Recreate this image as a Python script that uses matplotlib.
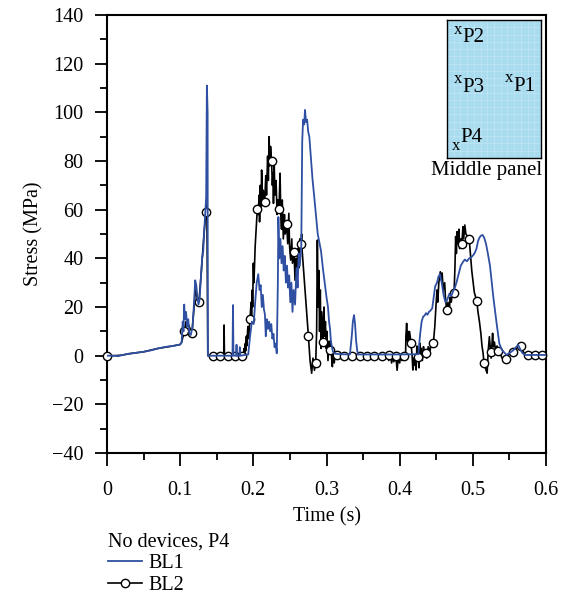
import matplotlib
matplotlib.use("Agg")
import matplotlib.pyplot as plt
from matplotlib.lines import Line2D
import numpy as np

plt.rcParams["font.family"] = ["Liberation Serif", "DejaVu Serif"]
plt.rcParams["font.size"] = 14.5

# BL1 (blue line), time in s, stress in MPa
bl1_t = [0.000, 0.010, 0.015, 0.020, 0.030, 0.040, 0.050, 0.060, 0.070, 0.080, 0.090, 0.100,
         0.102, 0.1035, 0.1045, 0.1055, 0.1065, 0.108, 0.1095, 0.111, 0.1125, 0.1145, 0.117,
         0.119, 0.1205, 0.122, 0.1235, 0.125, 0.1265, 0.128, 0.130, 0.1315, 0.133, 0.1345,
         0.1355, 0.1365, 0.1375, 0.1378, 0.1715, 0.1722, 0.1728, 0.1765, 0.177, 0.1775, 0.181,
         0.1815, 0.182, 0.193, 0.1955, 0.198, 0.2005, 0.2025, 0.2046, 0.2067, 0.2085, 0.210,
         0.2115, 0.213, 0.2145, 0.2158, 0.217, 0.2185, 0.220, 0.2215, 0.223, 0.2245, 0.226,
         0.2275, 0.229, 0.2305, 0.232, 0.2335, 0.2342, 0.2355, 0.237, 0.2385, 0.240, 0.2415,
         0.243, 0.2445, 0.246, 0.2475, 0.249, 0.2505, 0.252, 0.2535, 0.255, 0.257, 0.259,
         0.2605, 0.262, 0.2635, 0.2655, 0.2668, 0.268, 0.2695, 0.2706, 0.272, 0.2735, 0.275,
         0.2765, 0.279, 0.281, 0.283, 0.2855, 0.288, 0.2905, 0.2925, 0.295, 0.2975, 0.300,
         0.302, 0.3035, 0.3048, 0.306, 0.3075, 0.309, 0.312, 0.320, 0.332, 0.3345, 0.336,
         0.3376, 0.339, 0.3405, 0.342, 0.3435, 0.360, 0.400, 0.4255, 0.428, 0.430, 0.432,
         0.434, 0.436, 0.438, 0.440, 0.442, 0.4445, 0.4465, 0.4485, 0.451, 0.453, 0.455,
         0.4575, 0.460, 0.4625, 0.465, 0.468, 0.4705, 0.473, 0.4755, 0.478, 0.481, 0.4835,
         0.4865, 0.489, 0.492, 0.495, 0.498, 0.501, 0.503, 0.505, 0.507, 0.509, 0.511, 0.5134,
         0.5155, 0.518, 0.5205, 0.5234, 0.528, 0.5326, 0.5362, 0.5394, 0.546, 0.552, 0.5555,
         0.559, 0.562, 0.565, 0.568, 0.572, 0.600]
bl1_v = [0.0, 0.0, -0.2, 0.2, 0.8, 1.2, 1.6, 2.2, 3.0, 3.6, 4.0, 4.6,
         5.5, 14.0, 10.0, 21.0, 15.0, 18.0, 12.0, 15.0, 9.0, 8.5, 12.0,
         22.0, 31.0, 29.0, 24.0, 21.0, 23.0, 30.0, 40.0, 43.0, 52.0, 60.0,
         65.0, 111.0, 100.0, 0.0, 0.0, 20.8, 0.0, 0.0, 4.5, 0.0, 0.0,
         3.5, 0.0, 0.5, 8.0, 14.0, 13.0, 22.0, 30.0, 33.5, 27.0, 29.0,
         20.0, 25.0, 19.0, 17.0, 8.0, 15.0, 11.0, 14.0, 10.0, 13.0, 7.0,
         9.0, 3.5, 5.0, 1.0, 30.0, 57.0, 40.0, 48.0, 38.0, 45.0, 35.0,
         41.0, 30.0, 37.0, 28.0, 33.0, 22.0, 30.0, 18.0, 27.0, 21.0, 36.0,
         28.0, 42.0, 37.0, 45.0, 88.0, 97.0, 95.0, 101.0, 96.0, 97.0, 92.0,
         90.0, 80.0, 72.0, 66.0, 58.0, 50.0, 46.0, 43.0, 36.0, 30.0, 24.0,
         20.0, 14.0, 11.0, 6.0, 3.5, 1.5, 0.8, 0.6, 0.5, 8.0, 14.0,
         16.7, 13.0, 6.0, 2.0, 0.5, 0.5, 0.5, 0.6, 9.0, 14.0, 16.0,
         16.5, 17.5, 16.8, 18.0, 18.5, 19.5, 24.0, 28.5, 30.0, 32.5, 33.5,
         30.0, 25.0, 22.0, 23.0, 25.5, 24.5, 26.5, 28.0, 30.5, 34.0, 37.0,
         38.5, 39.5, 38.8, 40.0, 40.5, 41.5, 42.5, 44.0, 47.0, 48.5, 49.3, 49.6,
         48.5, 46.0, 42.0, 37.0, 24.0, 13.0, 5.0, 2.5, 0.3, 1.5, 2.3,
         3.5, 4.4, 2.5, 1.0, 0.3, 0.3]

# BL2 (black line)
bl2_t = [0.000, 0.010, 0.020, 0.030, 0.050, 0.070, 0.090, 0.100, 0.102, 0.1057, 0.108, 0.111,
         0.116, 0.119, 0.121, 0.1235, 0.1257, 0.129, 0.1325, 0.1353, 0.1365, 0.1378, 0.1595,
         0.160, 0.1605, 0.186, 0.1875, 0.188, 0.189, 0.1895, 0.1905, 0.191, 0.1925, 0.1935,
         0.1954, 0.197, 0.1975, 0.1985, 0.199, 0.200, 0.2008, 0.2025, 0.2054, 0.2065, 0.208,
         0.2085, 0.2095, 0.2105, 0.2113, 0.2125, 0.2135, 0.2155, 0.217, 0.218, 0.2195, 0.2205,
         0.2215, 0.2225, 0.2235, 0.2249, 0.226, 0.2268, 0.2275, 0.2285, 0.2295, 0.231, 0.2325,
         0.2335, 0.2351, 0.2365, 0.2375, 0.2385, 0.2395, 0.241, 0.2425, 0.2435, 0.2455, 0.247,
         0.2485, 0.2495, 0.251, 0.2525, 0.2535, 0.2556, 0.257, 0.2585, 0.2595, 0.261, 0.262,
         0.2635, 0.2651, 0.266, 0.2665, 0.2752, 0.2775, 0.2797, 0.2815, 0.2835, 0.2852, 0.2865,
         0.2875, 0.2885, 0.2895, 0.2905, 0.2915, 0.2925, 0.2935, 0.2952, 0.2965, 0.2975, 0.2985,
         0.2995, 0.3005, 0.302, 0.3035, 0.3048, 0.306, 0.307, 0.308, 0.309, 0.3105, 0.3125,
         0.3139, 0.380, 0.3835, 0.385, 0.387, 0.389, 0.3905, 0.392, 0.3935, 0.395, 0.3965,
         0.398, 0.400, 0.4015, 0.403, 0.4064, 0.408, 0.4085, 0.4095, 0.4105, 0.4115, 0.4125,
         0.4135, 0.4155, 0.417, 0.418, 0.419, 0.420, 0.421, 0.4225, 0.4235, 0.4245, 0.4255,
         0.4265, 0.4275, 0.4285, 0.4295, 0.431, 0.4325, 0.434, 0.4355, 0.437, 0.439, 0.4415,
         0.443, 0.446, 0.448, 0.4495, 0.451, 0.452, 0.4535, 0.4555, 0.457, 0.458, 0.4595,
         0.4615, 0.4625, 0.4642, 0.466, 0.4675, 0.469, 0.4705, 0.4725, 0.4743, 0.4755, 0.4765,
         0.4775, 0.4785, 0.4795, 0.481, 0.482, 0.4835, 0.4849, 0.4865, 0.4875, 0.489, 0.4905,
         0.495, 0.4985, 0.502, 0.5053, 0.507, 0.509, 0.511, 0.5125, 0.514, 0.5152, 0.517,
         0.5195, 0.521, 0.5226, 0.5244, 0.525, 0.527, 0.528, 0.5295, 0.531, 0.533, 0.5348,
         0.537, 0.540, 0.5453, 0.548, 0.550, 0.5553, 0.558, 0.5605, 0.5654, 0.568, 0.572, 0.600]
bl2_v = [0.0, 0.0, 0.2, 0.8, 1.6, 3.0, 4.0, 4.6, 5.5, 10.2, 14.0, 13.0,
         9.2, 20.0, 28.0, 23.0, 22.2, 35.0, 50.0, 59.2, 62.0, 0.0, 0.0,
         12.6, 0.0, 0.0, 3.0, 1.0, 5.0, 2.0, 8.0, 4.0, 12.0, 7.0,
         15.1, 22.0, 16.0, 27.0, 20.0, 38.0, 30.0, 45.0, 60.2, 58.0, 66.0,
         55.0, 70.0, 60.0, 76.3, 64.0, 68.0, 63.2, 74.0, 66.0, 82.0, 72.0,
         90.0, 78.0, 86.0, 80.1, 70.0, 75.0, 62.6, 79.0, 66.0, 72.0, 58.0,
         64.0, 60.2, 75.0, 58.0, 52.0, 64.0, 48.0, 58.0, 50.0, 54.0, 46.0,
         58.5, 45.0, 39.3, 48.0, 38.0, 42.5, 31.0, 40.0, 34.0, 44.0, 36.0,
         48.0, 45.8, 50.0, 44.0, 8.2, -2.0, -7.2, -1.0, -6.0, -3.1, 10.0,
         47.5, 20.0, 35.0, 10.0, 27.0, 3.0, 18.0, 5.8, 20.0, 8.0, 14.0,
         3.0, 10.0, -2.0, 6.0, 2.3, 6.0, -1.0, -4.5, 2.0, -3.0, 1.5,
         0.3, 0.0, 0.5, -2.0, 1.0, -3.0, 0.5, -2.5, 1.0, -1.0, -6.0,
         -1.0, -3.0, 0.5, -2.0, 0.0, -1.0, 8.0, 13.3, 6.0, 10.0, 4.0,
         9.9, 5.1, 0.0, -5.9, -1.0, -4.0, -0.5, -5.9, 4.0, -2.0, -0.4,
         -5.0, 5.1, -1.0, 3.0, -2.0, 3.7, 1.0, 1.0, -1.0, 3.7, 2.0,
         5.0, 5.1, 12.0, 20.0, 27.0, 22.0, 30.0, 34.5, 31.0, 34.0, 27.0,
         30.0, 24.0, 18.8, 22.0, 17.0, 24.0, 22.0, 27.0, 25.7, 36.0, 49.0,
         42.0, 51.0, 46.0, 52.0, 44.0, 48.0, 45.7, 53.0, 48.0, 53.7, 50.0,
         48.1, 35.0, 26.0, 22.6, 18.0, 14.0, 9.0, 4.0, 1.0, -2.9, -5.0,
         -7.2, 2.0, 7.8, 1.4, -1.0, 9.2, 3.6, 5.6, 2.0, 4.0, 2.0,
         1.0, -1.0, -1.4, 0.0, 1.0, 1.6, 2.0, 3.5, 4.0, 2.0, 0.3, 0.3]

# BL2 circle markers
bl2_mark_t = [0.0, 0.1057, 0.116, 0.1257, 0.1353, 0.1453, 0.155, 0.165, 0.175, 0.1845,
              0.1954, 0.2054, 0.2155, 0.2249, 0.2351, 0.2455, 0.2556, 0.2651, 0.2752, 0.2852,
              0.2952, 0.3048, 0.3139, 0.3244, 0.3349, 0.3453, 0.3558, 0.3654, 0.3754, 0.3855,
              0.3955, 0.406, 0.4155, 0.4255, 0.4355, 0.446, 0.4642, 0.4743, 0.4849, 0.495,
              0.5053, 0.5152, 0.5244, 0.5348, 0.5453, 0.5553, 0.5654, 0.575, 0.585, 0.595]
bl2_mark_v = [0.0, 10.2, 9.2, 22.2, 59.2, 0.0, 0.0, 0.0, 0.0, 0.0,
              15.1, 60.2, 63.2, 80.1, 60.2, 54.0, 42.5, 45.8, 8.2, -3.1,
              5.8, 2.3, 0.3, 0.0, 0.0, 0.0, 0.0, 0.0, 0.0, 0.3,
              0.0, 0.0, 5.1, -0.4, 1.0, 5.1, 18.8, 25.7, 45.7, 48.1,
              22.6, -2.9, 1.4, 2.0, -1.4, 1.6, 4.0, 0.3, 0.3, 0.3]

blue = "#2f4fa2"

fig = plt.figure(figsize=(5.68, 5.96), dpi=100)
ax = fig.add_axes([0.1884, 0.2399, 0.7729, 0.7349])

ax.plot(bl2_t, bl2_v, color="black", lw=1.2, zorder=2)
ax.plot(bl2_mark_t, bl2_mark_v, "o", ms=6, mfc="white", mec="black", mew=1.0,
        zorder=3, clip_on=False)
ax.plot(bl1_t, bl1_v, color=blue, lw=1.3, zorder=4)

ax.set_xlim(0, 0.6)
ax.set_ylim(-40, 140)
ax.set_xticks(np.arange(0, 0.61, 0.1))
ax.set_xticklabels(["0", "0.1", "0.2", "0.3", "0.4", "0.5", "0.6"])
ax.set_xticks(np.arange(0.05, 0.6, 0.1), minor=True)
ax.set_yticks(np.arange(-40, 141, 20))
ax.set_yticklabels(["\u221240", "\u221220", "0", "20", "40", "60", "80", "100", "120", "140"])
ax.set_yticks(np.arange(-30, 140, 20), minor=True)
ax.tick_params(which="major", direction="out", length=9, width=1.3)
ax.tick_params(axis="x", which="major", pad=11)
ax.tick_params(axis="y", which="major", pad=8)
ax.tick_params(which="minor", direction="out", length=5, width=1.3)
for s in ax.spines.values():
    s.set_linewidth(1.5)
ax.set_xlabel("Time (s)", labelpad=5)
ax.set_ylabel("Stress (MPa)", labelpad=6)

# inset showing gauge positions
ins = ax.inset_axes([0.7745, 0.6735, 0.2141, 0.3151])
ins.set_facecolor("#aadcef")
ins.set_xlim(0, 1)
ins.set_ylim(0, 1)
ins.set_xticks(np.linspace(0, 1, 15))
ins.set_yticks(np.linspace(0, 1, 20))
ins.grid(True, color="white", lw=0.5, alpha=0.25)
ins.tick_params(length=0, labelbottom=False, labelleft=False)
for s in ins.spines.values():
    s.set_linewidth(1.0)
ins.text(0.07, 0.93, "x", fontsize=12, va="center", ha="left")
ins.text(0.16, 0.87, "P2", fontsize=15, va="center", ha="left")
ins.text(0.07, 0.57, "x", fontsize=12, va="center", ha="left")
ins.text(0.16, 0.51, "P3", fontsize=15, va="center", ha="left")
ins.text(0.62, 0.58, "x", fontsize=12, va="center", ha="left")
ins.text(0.71, 0.52, "P1", fontsize=15, va="center", ha="left")
ins.text(0.05, 0.09, "x", fontsize=12, va="center", ha="left")
ins.text(0.14, 0.15, "P4", fontsize=15, va="center", ha="left")
ins.text(0.42, -0.025, "Middle panel", fontsize=15, va="top", ha="center",
         transform=ins.transAxes)

handles = [Line2D([], [], color=blue, lw=1.3),
           Line2D([], [], color="black", lw=1.2, marker="o", ms=6, mfc="white", mec="black")]
fig.legend(handles, ["BL1", "BL2"], title="No devices, P4", loc="upper left",
           bbox_to_anchor=(0.19, 0.106), frameon=False, alignment="left",
           handlelength=1.7, handletextpad=0.3, labelspacing=0.12, borderaxespad=0,
           borderpad=0, title_fontsize=14.5, fontsize=14.5)

fig.savefig("out.png", dpi=100)
